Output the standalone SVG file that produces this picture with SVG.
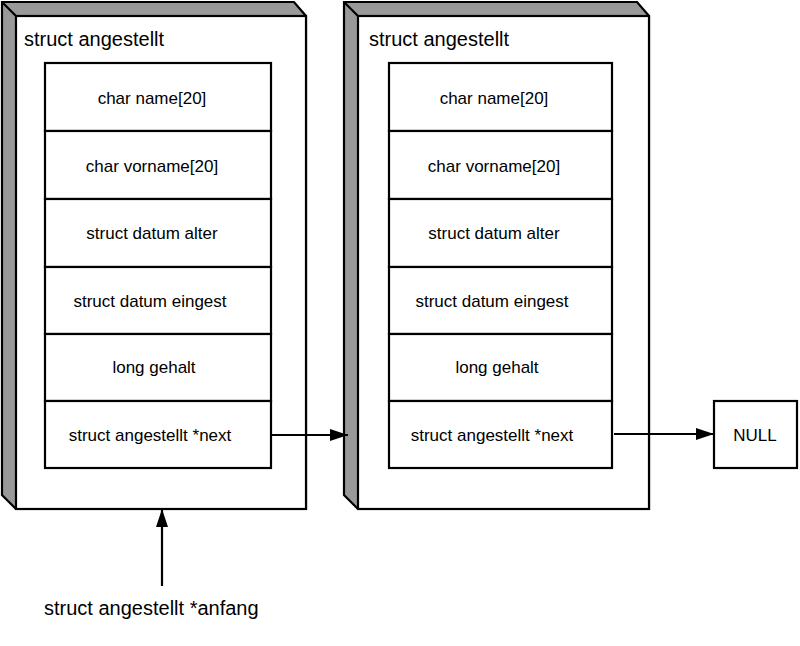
<svg xmlns="http://www.w3.org/2000/svg" width="800" height="646" viewBox="0 0 800 646">
  <style>
    .slab { fill: #999999; stroke: #000; stroke-width: 2.2; stroke-linejoin: miter; }
    .front { fill: #ffffff; stroke: #000; stroke-width: 2.2; }
    .row { fill: #ffffff; stroke: #000; stroke-width: 2.2; }
    .edge { fill: none; stroke: #000; stroke-width: 2.2; }
    .title { font-family: "Liberation Sans", Arial, sans-serif; font-size: 20px; fill: #000; }
    .field { font-family: "Liberation Sans", Arial, sans-serif; font-size: 17px; fill: #000; text-anchor: middle; }
    .conn { fill: none; stroke: #000; stroke-width: 2.2; }
  </style>
  <defs>
    <marker id="arrow" markerWidth="18" markerHeight="12" refX="18" refY="6" orient="auto" markerUnits="userSpaceOnUse">
      <path d="M0,0 L18,6 L0,12 Z" fill="#000"/>
    </marker>
  </defs>
  <rect width="800" height="646" fill="#ffffff"/>

  <g id="struct1">
    <polygon class="slab" points="2,2 294,2 306,16 306,509 16,509 2,495"/>
    <rect class="front" x="16" y="16" width="290" height="493"/>
    <line class="edge" x1="2" y1="2" x2="16" y2="16"/>
    <text class="title" x="24" y="46">struct angestellt</text>
    <rect class="row" x="45" y="63" width="226" height="68"/>
    <rect class="row" x="45" y="131" width="226" height="68"/>
    <rect class="row" x="45" y="199" width="226" height="68"/>
    <rect class="row" x="45" y="267" width="226" height="67"/>
    <rect class="row" x="45" y="334" width="226" height="67"/>
    <rect class="row" x="45" y="401" width="226" height="67"/>
    <text class="field" x="152" y="104">char name[20]</text>
    <text class="field" x="152" y="172">char vorname[20]</text>
    <text class="field" x="152" y="239">struct datum alter</text>
    <text class="field" x="150" y="307">struct datum eingest</text>
    <text class="field" x="154" y="373">long gehalt</text>
    <text class="field" x="150" y="441">struct angestellt *next</text>
  </g>

  <g id="struct2">
    <polygon class="slab" points="344,2 637,2 649,16 649,509 358,509 344,495"/>
    <rect class="front" x="358" y="16" width="291" height="493"/>
    <line class="edge" x1="344" y1="2" x2="358" y2="16"/>
    <text class="title" x="369" y="46">struct angestellt</text>
    <rect class="row" x="389" y="63" width="223" height="68"/>
    <rect class="row" x="389" y="131" width="223" height="68"/>
    <rect class="row" x="389" y="199" width="223" height="68"/>
    <rect class="row" x="389" y="267" width="223" height="67"/>
    <rect class="row" x="389" y="334" width="223" height="67"/>
    <rect class="row" x="389" y="401" width="223" height="67"/>
    <text class="field" x="494" y="104">char name[20]</text>
    <text class="field" x="494" y="172">char vorname[20]</text>
    <text class="field" x="494" y="239">struct datum alter</text>
    <text class="field" x="492" y="307">struct datum eingest</text>
    <text class="field" x="497" y="373">long gehalt</text>
    <text class="field" x="492" y="441">struct angestellt *next</text>
  </g>

  <g id="null">
    <rect class="row" x="714" y="401" width="83" height="67"/>
    <text class="field" x="755" y="441">NULL</text>
  </g>

  <g id="anfang">
    <text class="title" x="44" y="615">struct angestellt *anfang</text>
  </g>

  <g id="connectors">
    <line class="conn" x1="271" y1="435" x2="348" y2="435" marker-end="url(#arrow)"/>
    <line class="conn" x1="614" y1="434" x2="714" y2="434" marker-end="url(#arrow)"/>
    <line class="conn" x1="162" y1="586" x2="162" y2="509" marker-end="url(#arrow)"/>
  </g>
</svg>
